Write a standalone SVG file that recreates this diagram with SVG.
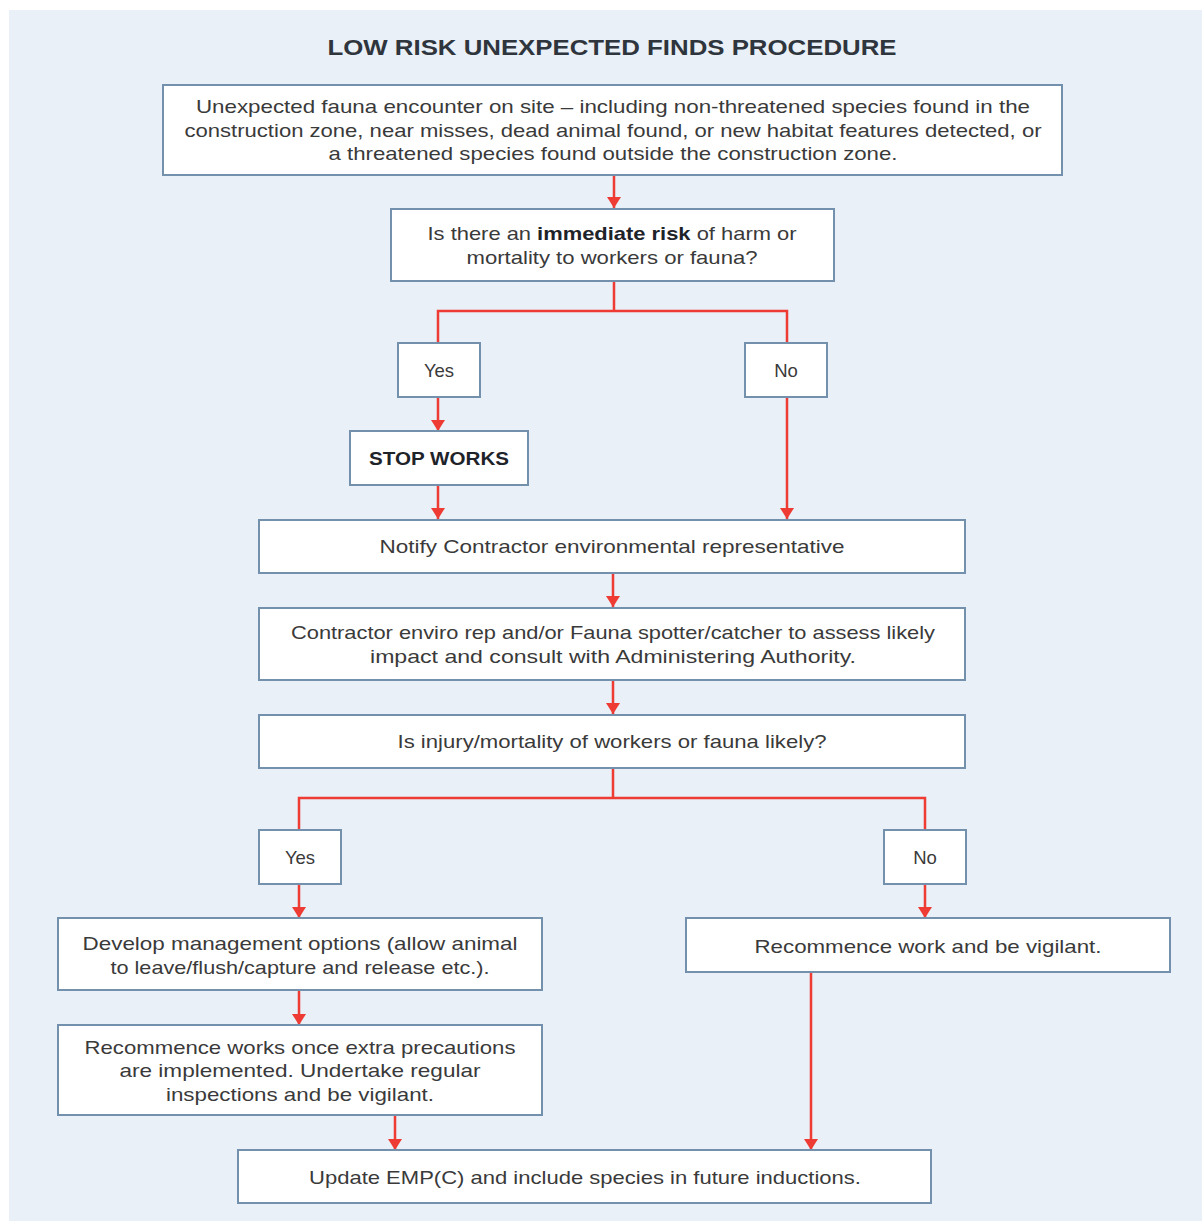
<svg xmlns="http://www.w3.org/2000/svg" width="1202" height="1222" viewBox="0 0 1202 1222">
<style>
.bg{fill:#E9F0F7}
.box{fill:#FFFFFF;stroke:#7390AD;stroke-width:2}
.t{font-family:"Liberation Sans",Arial,sans-serif;font-size:18.5px;fill:#3A3A3A;text-anchor:middle}
.b{font-weight:bold;fill:#1E2329}
.title{font-family:"Liberation Sans",Arial,sans-serif;font-size:22px;font-weight:bold;fill:#2F353D;text-anchor:middle}
.c{fill:none;stroke:#EE3B33;stroke-width:2.5}
</style>
<defs>
<marker id="ah" markerUnits="userSpaceOnUse" markerWidth="12" markerHeight="16" refX="11" refY="8" orient="auto" viewBox="0 0 12 16">
<path d="M0,1 L11,8 L0,15 Z" fill="#EE3B33"/>
</marker>
</defs>
<rect x="0" y="0" width="1202" height="1222" fill="#FFFFFF"/>
<rect class="bg" x="9" y="10" width="1193" height="1211"/>
<text class="title" x="612" y="55" textLength="569" lengthAdjust="spacingAndGlyphs">LOW RISK UNEXPECTED FINDS PROCEDURE</text>

<g id="connectors">
<path class="c" d="M614,176 V208" marker-end="url(#ah)"/>
<path class="c" d="M614,282 V311 H438 V342 M614,311 H787 V342"/>
<path class="c" d="M438,398 V431" marker-end="url(#ah)"/>
<path class="c" d="M438,486 V519" marker-end="url(#ah)"/>
<path class="c" d="M787,398 V519" marker-end="url(#ah)"/>
<path class="c" d="M613,574 V607" marker-end="url(#ah)"/>
<path class="c" d="M613,681 V714" marker-end="url(#ah)"/>
<path class="c" d="M613,769 V798 H299 V829 M613,798 H925 V829"/>
<path class="c" d="M299,885 V918" marker-end="url(#ah)"/>
<path class="c" d="M925,885 V918" marker-end="url(#ah)"/>
<path class="c" d="M299,991 V1025" marker-end="url(#ah)"/>
<path class="c" d="M395,1116 V1150" marker-end="url(#ah)"/>
<path class="c" d="M811,973 V1150" marker-end="url(#ah)"/>
</g>

<g id="n1">
<rect class="box" x="163" y="85" width="899" height="90"/>
<text class="t" x="613" y="113" textLength="834" lengthAdjust="spacingAndGlyphs">Unexpected fauna encounter on site – including non-threatened species found in the</text>
<text class="t" x="613" y="137" textLength="857" lengthAdjust="spacingAndGlyphs">construction zone, near misses, dead animal found, or new habitat features detected, or</text>
<text class="t" x="613" y="160" textLength="569" lengthAdjust="spacingAndGlyphs">a threatened species found outside the construction zone.</text>
</g>
<g id="n2">
<rect class="box" x="391" y="209" width="443" height="72"/>
<text class="t" x="612" y="240" textLength="369" lengthAdjust="spacingAndGlyphs">Is there an <tspan class="b">immediate risk</tspan> of harm or</text>
<text class="t" x="612" y="264" textLength="291" lengthAdjust="spacingAndGlyphs">mortality to workers or fauna?</text>
</g>
<g id="n3">
<rect class="box" x="398" y="343" width="82" height="54"/>
<text class="t" x="439" y="377">Yes</text>
</g>
<g id="n4">
<rect class="box" x="745" y="343" width="82" height="54"/>
<text class="t" x="786" y="377">No</text>
</g>
<g id="n5">
<rect class="box" x="350" y="431" width="178" height="54"/>
<text class="t b" x="439" y="465" textLength="140" lengthAdjust="spacingAndGlyphs">STOP WORKS</text>
</g>
<g id="n6">
<rect class="box" x="259" y="520" width="706" height="53"/>
<text class="t" x="612" y="553" textLength="465" lengthAdjust="spacingAndGlyphs">Notify Contractor environmental representative</text>
</g>
<g id="n7">
<rect class="box" x="259" y="608" width="706" height="72"/>
<text class="t" x="613" y="639" textLength="644" lengthAdjust="spacingAndGlyphs">Contractor enviro rep and/or Fauna spotter/catcher to assess likely</text>
<text class="t" x="613" y="663" textLength="486" lengthAdjust="spacingAndGlyphs">impact and consult with Administering Authority.</text>
</g>
<g id="n8">
<rect class="box" x="259" y="715" width="706" height="53"/>
<text class="t" x="612" y="748" textLength="429" lengthAdjust="spacingAndGlyphs">Is injury/mortality of workers or fauna likely?</text>
</g>
<g id="n9">
<rect class="box" x="259" y="830" width="82" height="54"/>
<text class="t" x="300" y="864">Yes</text>
</g>
<g id="n10">
<rect class="box" x="884" y="830" width="82" height="54"/>
<text class="t" x="925" y="864">No</text>
</g>
<g id="n11">
<rect class="box" x="58" y="918" width="484" height="72"/>
<text class="t" x="300" y="950" textLength="435" lengthAdjust="spacingAndGlyphs">Develop management options (allow animal</text>
<text class="t" x="300" y="974" textLength="379" lengthAdjust="spacingAndGlyphs">to leave/flush/capture and release etc.).</text>
</g>
<g id="n12">
<rect class="box" x="686" y="918" width="484" height="54"/>
<text class="t" x="928" y="953" textLength="347" lengthAdjust="spacingAndGlyphs">Recommence work and be vigilant.</text>
</g>
<g id="n13">
<rect class="box" x="58" y="1025" width="484" height="90"/>
<text class="t" x="300" y="1054" textLength="431" lengthAdjust="spacingAndGlyphs">Recommence works once extra precautions</text>
<text class="t" x="300" y="1077" textLength="361" lengthAdjust="spacingAndGlyphs">are implemented. Undertake regular</text>
<text class="t" x="300" y="1101" textLength="268" lengthAdjust="spacingAndGlyphs">inspections and be vigilant.</text>
</g>
<g id="n14">
<rect class="box" x="238" y="1150" width="693" height="53"/>
<text class="t" x="585" y="1184" textLength="552" lengthAdjust="spacingAndGlyphs">Update EMP(C) and include species in future inductions.</text>
</g>
</svg>
